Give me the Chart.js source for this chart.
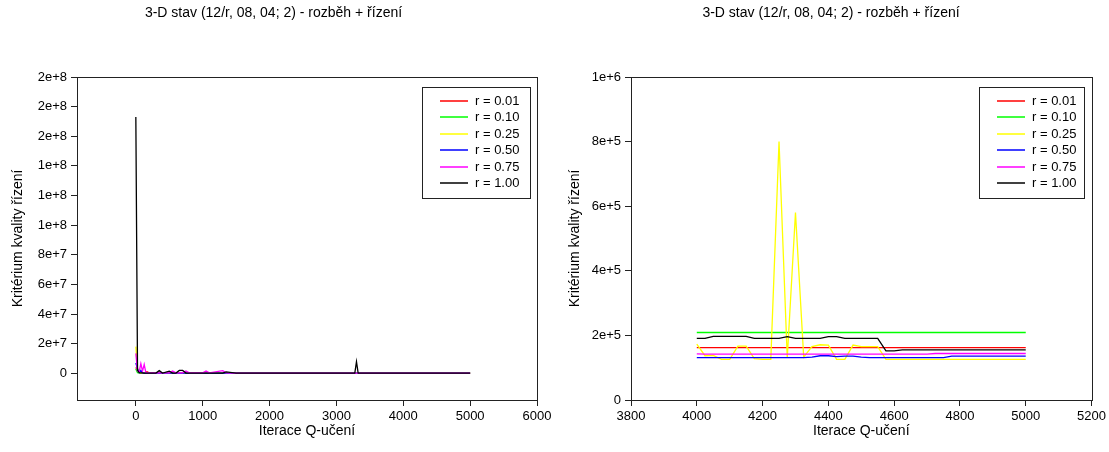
<!DOCTYPE html>
<html>
<head>
<meta charset="utf-8">
<script src="https://cdn.jsdelivr.net/npm/chart.js@4.4.1/dist/chart.umd.min.js"></script>
<style>
  body { margin: 0; background: #fff; }
  #wrap { position: relative; width: 1109px; height: 452px; }
  canvas { position: absolute; top: 0; }
</style>
</head>
<body>
<div id="wrap">
  <canvas id="leftChart" width="555" height="452" style="left:0"></canvas>
  <canvas id="rightChart" width="554" height="452" style="left:555px"></canvas>
</div>
<script>
const chartTitle = "3-D stav (12/r, 08, 04; 2) - rozběh + řízení";
const xTitle = "Iterace Q-učení";
const yTitle = "Kritérium kvality řízení";
const seriesLabels = ["r = 0.01", "r = 0.10", "r = 0.25", "r = 0.50", "r = 0.75", "r = 1.00"];
const seriesColors = ["#ff0000", "#00ff00", "#ffff00", "#0000ff", "#ff00ff", "#000000"];

// tick positions
const leftXTicks = [0, 1000, 2000, 3000, 4000, 5000, 6000];
const leftYTicks = [0, 2e7, 4e7, 6e7, 8e7, 1e8, 1.2e8, 1.4e8, 1.6e8, 1.8e8, 2e8];
const rightXTicks = [3800, 4000, 4200, 4400, 4600, 4800, 5000, 5200];
const rightYTicks = [0, 2e5, 4e5, 6e5, 8e5, 1e6];

// left chart: whole run, 0..5000 iterations
const leftIter = [0, 25, 50, 75, 100, 125, 150, 175, 200, 250, 300, 350, 400, 500, 550, 600, 650, 700, 750, 800,
  1000, 1050, 1100, 1300, 1350, 1500, 2000, 2500, 3000, 3275, 3300, 3325, 3500, 4000, 4500, 5000];
const leftR001 = [4e6, 2e6, 5e5, 3e5, 2e5, 2e5, 1e6, 1e6, 2e5, 2e5, 2e5, 2e5, 2e5, 2e5, 2e5, 2e5, 2e5, 2e5, 2e5, 2e5,
  2e5, 2e5, 2e5, 2e5, 2e5, 2e5, 1.8e5, 1.7e5, 1.7e5, 1.65e5, 1.65e5, 1.65e5, 1.62e5, 1.62e5, 1.62e5, 1.62e5];
const leftR010 = [3e6, 5e5, 3e5, 2.5e5, 2.5e5, 2.5e5, 2.5e5, 2.5e5, 2.5e5, 2.5e5, 2.5e5, 2.5e5, 2.5e5, 2.5e5, 2.5e5, 2.5e5, 2.5e5, 2.5e5, 2.5e5, 2.5e5,
  2.3e5, 2.3e5, 2.3e5, 2.2e5, 2.2e5, 2.2e5, 2.2e5, 2.1e5, 2.1e5, 2.1e5, 2.1e5, 2.1e5, 2.1e5, 2.09e5, 2.09e5, 2.09e5];
const leftR025 = [1.8e7, 3e6, 1e6, 5e5, 3e5, 3e5, 3e5, 3e5, 3e5, 3e5, 3e5, 3e5, 3e5, 3e5, 3e5, 3e5, 3e5, 3e5, 3e5, 3e5,
  2.5e5, 2.5e5, 2.5e5, 2.5e5, 2.5e5, 2e5, 2e5, 2e5, 2e5, 2e5, 2e5, 2e5, 2e5, 1.73e5, 1.65e5, 1.27e5];
const leftR050 = [7e6, 3e6, 5e5, 2e6, 3e5, 2e5, 2e5, 2e5, 2e5, 2e5, 2e5, 2e5, 2e5, 2e5, 2e5, 2e5, 2e5, 2e5, 2e5, 2e5,
  1.8e5, 1.8e5, 1.8e5, 1.7e5, 1.7e5, 1.6e5, 1.5e5, 1.4e5, 1.35e5, 1.35e5, 1.35e5, 1.35e5, 1.35e5, 1.31e5, 1.33e5, 1.36e5];
const leftR075 = [1.35e7, 1.5e6, 1e6, 6.5e6, 1.5e6, 6e6, 5e5, 3e5, 3e5, 3e5, 3e5, 3e5, 3e5, 3e5, 1.5e6, 3e5, 3e5, 3e5, 1.5e6, 3e5,
  3e5, 1.5e6, 3e5, 1.8e6, 3e5, 2e5, 2e5, 1.6e5, 1.5e5, 1.5e5, 1.5e5, 1.5e5, 1.45e5, 1.42e5, 1.42e5, 1.44e5];
const leftR100 = [1.73e8, 2e6, 4e5, 3e5, 3e5, 2e5, 2e5, 2e5, 2e5, 2e5, 2e5, 1.8e6, 2e5, 1.5e6, 2e5, 2e5, 2e6, 2e6, 2e5, 2e5,
  2e5, 2e5, 2e5, 2e5, 1e6, 2e5, 2e5, 2e5, 2e5, 2e5, 7.8e6, 2e5, 2e5, 1.91e5, 1.91e5, 1.55e5];

// right chart: detail of the last 1000 iterations
const rightIter = [4000, 4025, 4050, 4075, 4100, 4125, 4150, 4175, 4200, 4225, 4250, 4275, 4300, 4325, 4350, 4375, 4400, 4425, 4450, 4475,
  4500, 4525, 4550, 4575, 4600, 4625, 4650, 4675, 4700, 4725, 4750, 4775, 4800, 4825, 4850, 4875, 4900, 4925, 4950, 4975, 5000];
const rightR001 = [162000, 162000, 162000, 162000, 162000, 162000, 162000, 162000, 162000, 162000, 162000, 162000, 162000, 162000, 162000, 162000, 162000, 162000, 162000, 162000,
  162000, 162000, 162000, 162000, 162000, 162000, 162000, 162000, 162000, 162000, 162000, 162000, 162000, 162000, 162000, 162000, 162000, 162000, 162000, 162000, 162000];
const rightR010 = [209000, 209000, 209000, 209000, 209000, 209000, 209000, 209000, 209000, 209000, 209000, 209000, 209000, 209000, 209000, 209000, 209000, 209000, 209000, 209000,
  209000, 209000, 209000, 209000, 209000, 209000, 209000, 209000, 209000, 209000, 209000, 209000, 209000, 209000, 209000, 209000, 209000, 209000, 209000, 209000, 209000];
const rightR025 = [173000, 137000, 138000, 126000, 126000, 167000, 167000, 128000, 126000, 126000, 800000, 130000, 580000, 133000, 165000, 171000, 170000, 126000, 126000, 170000,
  165000, 165000, 165000, 126000, 126000, 126000, 126000, 126000, 126000, 126000, 126000, 126000, 126000, 126000, 126000, 126000, 126000, 126000, 126000, 126000, 126000];
const rightR050 = [131000, 131000, 131000, 131000, 131000, 131000, 131000, 131000, 131000, 131000, 131000, 131000, 131000, 131000, 133000, 137000, 137000, 134000, 136000, 136000,
  133000, 131000, 131000, 131000, 131000, 131000, 131000, 131000, 131000, 131000, 131000, 136000, 136000, 136000, 136000, 136000, 136000, 136000, 136000, 136000, 136000];
const rightR075 = [143000, 142000, 142000, 142000, 142000, 142000, 142000, 142000, 142000, 142000, 142000, 142000, 142000, 142000, 142000, 142000, 142000, 142000, 142000, 142000,
  142000, 142000, 142000, 142000, 142000, 142000, 142000, 142000, 142000, 144000, 144000, 144000, 144000, 144000, 144000, 144000, 144000, 144000, 144000, 144000, 144000];
const rightR100 = [191000, 191000, 197000, 197000, 197000, 197000, 197000, 191000, 191000, 191000, 191000, 196000, 191000, 191000, 191000, 191000, 196000, 196000, 191000, 191000,
  191000, 191000, 191000, 152000, 152000, 155000, 155000, 155000, 155000, 155000, 155000, 155000, 155000, 155000, 155000, 155000, 155000, 155000, 155000, 155000, 155000];

Chart.defaults.font.family = '"Liberation Sans", Arial, sans-serif';
Chart.defaults.color = '#000';

// frame round the plot area (top + right edges)
const frame = {
  id: 'frame',
  afterDatasetsDraw(chart) {
    const {ctx, chartArea: a} = chart;
    ctx.save();
    ctx.strokeStyle = '#222';
    ctx.lineWidth = 1;
    ctx.strokeRect(Math.round(a.left) + 0.5, Math.round(a.top) + 0.5, Math.round(a.right - a.left), Math.round(a.bottom - a.top));
    ctx.restore();
  }
};

// boxed legend inside the top right corner
const boxLegend = {
  id: 'boxLegend',
  afterDraw(chart, args, opts) {
    const {ctx, chartArea: a} = chart;
    const w = opts.width, rowH = 16.45;
    const n = chart.data.datasets.length;
    const x0 = Math.round(a.right - opts.right - w);
    const y0 = Math.round(a.top + opts.top);
    const h = Math.round(14 + rowH * (n - 1) + 15);
    ctx.save();
    ctx.fillStyle = '#fff';
    ctx.fillRect(x0, y0, w, h);
    ctx.strokeStyle = '#222';
    ctx.lineWidth = 1;
    ctx.strokeRect(x0 + 0.5, y0 + 0.5, w, h);
    ctx.font = '13px "Liberation Sans", Arial, sans-serif';
    ctx.textBaseline = 'middle';
    chart.data.datasets.forEach((ds, i) => {
      const y = Math.round(y0 + 14 + i * rowH);
      ctx.strokeStyle = seriesColors[i];
      ctx.lineWidth = 1.5;
      ctx.beginPath();
      ctx.moveTo(x0 + 18, y);
      ctx.lineTo(x0 + 46, y);
      ctx.stroke();
      ctx.fillStyle = '#000';
      ctx.fillText(ds.label, x0 + 53, y);
    });
    ctx.restore();
  }
};

function makeChart(id, iters, series, o) {
  const datasets = seriesLabels.map((label, i) => ({
    label,
    data: iters.map((x, j) => ({x, y: series[i][j]})),
    borderColor: seriesColors[i],
    backgroundColor: seriesColors[i],
    borderWidth: 1.3,
    pointRadius: 0,
    tension: 0,
    fill: false,
    order: seriesLabels.length - i
  }));

  new Chart(document.getElementById(id).getContext('2d'), {
    type: 'line',
    data: { datasets },
    options: {
      responsive: false,
      animation: false,
      layout: { padding: { left: o.padLeft, right: o.padRight, top: 0, bottom: 12 } },
      plugins: {
        legend: { display: false },
        tooltip: { enabled: false },
        title: {
          display: true,
          text: chartTitle,
          color: '#000',
          font: { size: 14, weight: 'normal' },
          padding: { top: 5, bottom: 55.2 }
        },
        boxLegend: { width: o.legendWidth, right: o.legendRight, top: 10 }
      },
      scales: {
        x: {
          type: 'linear',
          min: o.xMin,
          max: o.xMax,
          afterBuildTicks: s => { s.ticks = o.xTicks.map(value => ({ value })); },
          ticks: { autoSkip: false, maxRotation: 0, padding: 3, font: { size: 13 }, callback: v => String(v) },
          grid: { drawOnChartArea: false, tickLength: 6, color: '#222' },
          border: { color: '#222' },
          title: { display: true, text: xTitle, font: { size: 14 }, padding: 0 },
          afterFit: s => { s.height = 40; }
        },
        y: {
          type: 'linear',
          min: o.yMin,
          max: o.yMax,
          afterBuildTicks: s => { s.ticks = o.yTicks.map(value => ({ value })); },
          ticks: {
            autoSkip: false,
            padding: 4,
            font: { size: 13 },
            callback: v => v === 0 ? '0' : Number(v).toExponential(0)
          },
          grid: { drawOnChartArea: false, tickLength: 6, color: '#222' },
          border: { color: '#222' },
          title: { display: true, text: yTitle, font: { size: 14 }, padding: 0 },
          afterFit: s => { s.width = o.yWidth; }
        }
      }
    },
    plugins: [frame, boxLegend]
  });
}

makeChart('leftChart', leftIter, [leftR001, leftR010, leftR025, leftR050, leftR075, leftR100], {
  xMin: -880, xMax: 6000, xTicks: leftXTicks,
  yMin: -1.8e7, yMax: 2e8, yTicks: leftYTicks,
  padLeft: 10, padRight: 18, yWidth: 67,
  legendWidth: 108, legendRight: 7
});

makeChart('rightChart', rightIter, [rightR001, rightR010, rightR025, rightR050, rightR075, rightR100], {
  xMin: 3800, xMax: 5200, xTicks: rightXTicks,
  yMin: 0, yMax: 1e6, yTicks: rightYTicks,
  padLeft: 12, padRight: 14, yWidth: 64,
  legendWidth: 105, legendRight: 8
});
</script>
</body>
</html>
